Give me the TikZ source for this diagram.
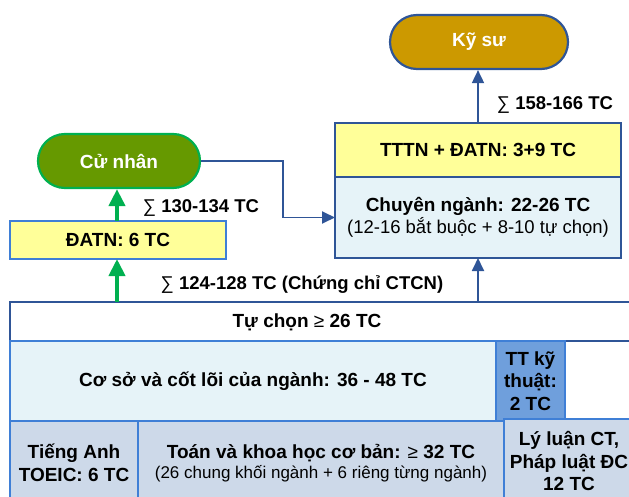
\documentclass[tikz,border=0pt]{standalone}
\usepackage{fontspec}
\setmainfont{Liberation Sans}
\usetikzlibrary{arrows.meta}

\begin{document}
\begin{tikzpicture}[x=1pt,y=-1pt]
  % some colors
  \definecolor{gold}{HTML}{CC9900}
  \definecolor{olive}{HTML}{669900}
  \definecolor{greenline}{HTML}{00B050}
  \definecolor{navy}{HTML}{2F5597}
  \definecolor{edge}{HTML}{3F7FD6}
  \definecolor{paleyellow}{HTML}{FFFF99}
  \definecolor{paleblue}{HTML}{E6F3F8}
  \definecolor{steel}{HTML}{CDD9E9}
  \definecolor{midblue}{HTML}{6F9FDC}
  % some styles
  \tikzset{
    box/.style={
      draw=#1,
      line width=1.6pt,
      inner sep=0pt,
      outer sep=0pt,
      align=center,
      font=\fontsize{19}{22.5}\selectfont\bfseries,
    },
    pill/.style={
      draw=#1,
      line width=2.2pt,
      rounded corners=27pt,
      minimum height=54pt,
      text=white,
      font=\fontsize{19}{22.5}\selectfont\bfseries,
    },
    link/.style={-{Triangle[width=12pt,length=13pt]},navy,line width=1.8pt},
    glink/.style={-{Triangle[width=16pt,length=17pt]},greenline,line width=4pt},
    total/.style={inner sep=0pt,font=\fontsize{18.5}{22.5}\selectfont\bfseries},
  }
  \useasboundingbox (0,0) rectangle (629,497);
  \clip (0,0) rectangle (629,497);
  % degrees
  \node[pill=navy,fill=gold,minimum width=178pt] (kysu) at (479,42) {Kỹ sư};
  \node[pill=greenline,fill=olive,minimum width=162pt] (cunhan) at (119,161) {Cử nhân};
  % graduation blocks
  \node[box=edge,fill=paleyellow,minimum width=216pt,minimum height=38pt] (datn) at (118,240) {ĐATN: 6 TC};
  \node[box=navy,fill=paleyellow,minimum width=286pt,minimum height=54pt] (tttn) at (478,150) {TTTN + ĐATN: 3+9 TC};
  \node[box=navy,fill=paleblue,minimum width=286pt,minimum height=81pt] (chuyen) at (478,217.5)
    {Chuyên ngành: 22-26 TC\\[-1pt]{\fontsize{18.5}{21}\selectfont\mdseries(12-16 bắt buộc + 8-10 tự chọn)}};
  % base blocks
  \node[box=navy,fill=white,minimum width=632pt,minimum height=39pt] (tuchon) at (326,321.5) {};
  \node[total,font=\fontsize{19}{22.5}\selectfont\bfseries] (tuchon-txt) at (307,322) {Tự chọn {\mdseries≥} 26 TC};
  \node[box=edge,fill=paleblue,minimum width=486pt,minimum height=80pt] (coso) at (253,381) {Cơ sở và cốt lõi của ngành: 36 - 48 TC};
  \node[box=edge,fill=midblue,minimum width=69pt,minimum height=80pt] (ttkt) at (530.5,381) {TT kỹ\\thuật:\\2 TC};
  \node[box=edge,fill=steel,minimum width=128pt,minimum height=84pt] (tienganh) at (74,463) {Tiếng Anh\\TOEIC: 6 TC};
  \node[box=edge,fill=steel,minimum width=366pt,minimum height=84pt] (toan) at (321,463)
    {Toán và khoa học cơ bản: {\mdseries≥} 32 TC\\[-2pt]{\fontsize{17}{20}\selectfont\mdseries(26 chung khối ngành + 6 riêng từng ngành)}};
  \node[box=edge,fill=steel,minimum width=130pt,minimum height=84pt] (lyluan) at (569,461) {Lý luận CT,\\Pháp luật ĐC\\12 TC};
  % totals
  \node[total] (sum-ks) at (555,105) {{\mdseries∑} 158-166 TC};
  \node[total] (sum-cn) at (201,208) {{\mdseries∑} 130-134 TC};
  \node[total] (sum-cc) at (302,285) {{\mdseries∑} 124-128 TC (Chứng chỉ CTCN)};
  % arrows
  \draw[link] (tttn.north) -- (tttn.north |- kysu.south);
  \draw[link] (chuyen.south |- tuchon.north) -- (chuyen.south);
  \draw[link] (cunhan.east) -- ++(82,0) |- (chuyen.west);
  \draw[glink] (datn.north -| 117,0) -- (cunhan.south -| 117,0);
  \draw[glink] (tuchon.north -| 117,0) -- (datn.south -| 117,0);
\end{tikzpicture}
\end{document}
